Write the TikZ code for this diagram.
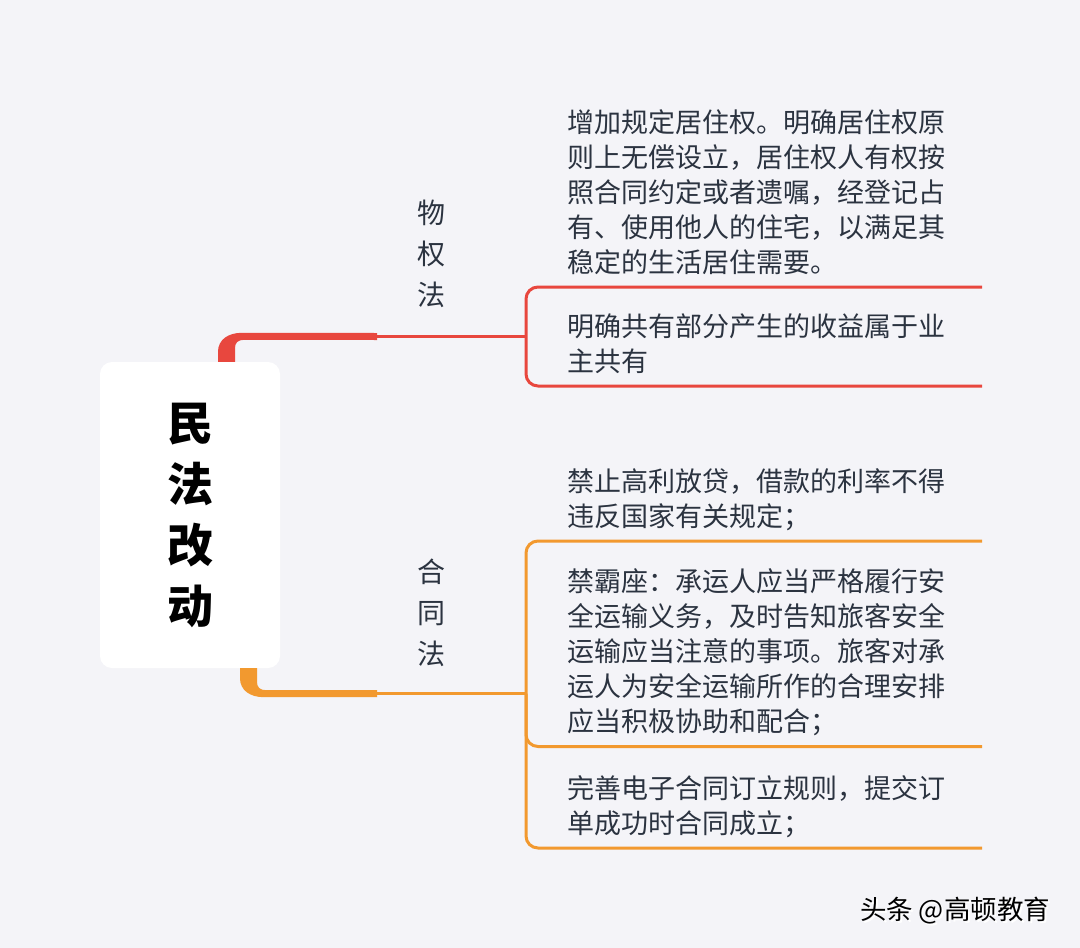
\documentclass[tikz,border=0pt]{standalone}
\usepackage{fontspec}
\usepackage{xcolor}
\usetikzlibrary{positioning,calc}
\newfontfamily\cjk{Noto Sans CJK SC}
\definecolor{bgpaper}{HTML}{F4F4F8}
\definecolor{lawred}{HTML}{E8473E}
\definecolor{laworange}{HTML}{F2992F}
\definecolor{inktext}{HTML}{2B3340}

\begin{document}
\begin{tikzpicture}[x=1pt,y=-1pt,
    every node/.style={font=\cjk, text=inktext, inner sep=0pt},
    rootbox/.style={fill=white, rounded corners=12pt, minimum width=180pt, minimum height=306pt,
        font=\cjk\bfseries\fontsize{46}{61}\selectfont, text=black, align=center},
    lawlabel/.style={font=\cjk\fontsize{28}{41}\selectfont, align=center},
    leaf/.style={font=\cjk\fontsize{27}{35}\selectfont, align=left, anchor=base west},
    twig/.style={line width=3pt, rounded corners=12pt},
    markfont/.style={font=\cjk\fontsize{26.5}{26.5}\selectfont}
]
\useasboundingbox (0,0) rectangle (1080,948);
\fill[bgpaper] (0,0) rectangle (1080,948);

\node[rootbox] (root) at (190,515) {民\\法\\改\\动};

% 物权法
\node[lawlabel] (wuquan) at (431,254) {物\\权\\法};
\coordinate (wqend) at (377,336.5);
\coordinate (wqfork) at (526,336.5);
\coordinate (wqa) at (982,287);
\coordinate (wqb) at (982,386);
\fill[lawred] ($(root.north)+(28,0)$) -- ($(root.north)+(28,-10)$)
    .. controls ($(root.north)+(28,-22)$) and ($(root.north)+(38,-29)$) .. ($(root.north)+(52,-29)$)
    -- ($(wqend)+(0,-3.5)$) -- ($(wqend)+(0,3.5)$) -- ($(root.north)+(54,-22)$)
    .. controls ($(root.north)+(48,-22)$) and ($(root.north)+(45,-19)$) .. ($(root.north)+(45,-14)$)
    -- ($(root.north)+(45,0)$) -- cycle;
\draw[lawred, line width=3pt] (wqend) -- (wqfork);
\draw[lawred, twig] (wqa) -| (wqfork) |- (wqb);
\node[leaf] (wqleafa) at (567,272) {增加规定居住权。明确居住权原\\则上无偿设立，居住权人有权按\\照合同约定或者遗嘱，经登记占\\有、使用他人的住宅，以满足其\\稳定的生活居住需要。};
\node[leaf] (wqleafb) at (567,371) {明确共有部分产生的收益属于业\\主共有};

% 合同法
\node[lawlabel] (hetong) at (431,613) {合\\同\\法};
\coordinate (htend) at (377,693.5);
\coordinate (htfork) at (526,693.5);
\coordinate (hta) at (982,541);
\coordinate (htb) at (982,746.5);
\coordinate (htc) at (982,848);
\fill[laworange] ($(root.south)+(50,0)$) -- ($(root.south)+(50,10)$)
    .. controls ($(root.south)+(50,22)$) and ($(root.south)+(60,29)$) .. ($(root.south)+(74,29)$)
    -- ($(htend)+(0,3.5)$) -- ($(htend)+(0,-3.5)$) -- ($(root.south)+(76,22)$)
    .. controls ($(root.south)+(70,22)$) and ($(root.south)+(67,19)$) .. ($(root.south)+(67,14)$)
    -- ($(root.south)+(67,0)$) -- cycle;
\draw[laworange, line width=3pt] (htend) -- (htfork);
\draw[laworange, twig] (hta) -| (htfork) |- (htc);
\draw[laworange, twig] (htfork) |- (htb);
\node[leaf] (htleafa) at (567,526) {禁止高利放贷，借款的利率不得\\违反国家有关规定；};
\node[leaf] (htleafb) at (567,731) {禁霸座：承运人应当严格履行安\\全运输义务，及时告知旅客安全\\运输应当注意的事项。旅客对承\\运人为安全运输所作的合理安排\\应当积极协助和配合；};
\node[leaf] (htleafc) at (567,833) {完善电子合同订立规则，提交订\\单成功时合同成立；};

% watermark
\node[markfont, text=white] at (957,913) {头条 @高顿教育};
\node[markfont, text=black] (mark) at (955,911) {头条 @高顿教育};
\end{tikzpicture}
\end{document}
